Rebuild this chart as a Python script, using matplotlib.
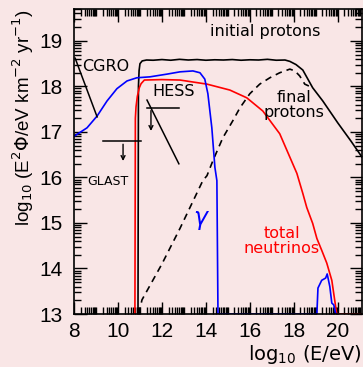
import numpy as np
import matplotlib
matplotlib.use('Agg')
import matplotlib.pyplot as plt
from matplotlib.ticker import FixedLocator

# initial protons (solid black)
init_E = [10.91, 10.93, 10.96, 11.0, 11.1, 11.3, 11.6, 12.0, 12.4, 12.8, 13.2, 13.6, 14.0,
          14.4, 14.8, 15.2, 15.6, 16.0, 16.4, 16.8, 17.2, 17.6, 17.82, 18.1, 18.41, 18.86,
          19.32, 20.0, 20.6, 21.1]
init_F = [13.0, 18.0, 18.35, 18.5, 18.56, 18.58, 18.575, 18.59, 18.575, 18.595, 18.58, 18.59, 18.575,
          18.585, 18.58, 18.59, 18.575, 18.585, 18.58, 18.595, 18.575, 18.58, 18.55, 18.48, 18.36, 17.97,
          17.68, 17.2, 16.8, 16.45]

# final protons (dashed black)
fin_E = [10.95, 11.09, 12.0, 12.82, 13.86, 14.05, 14.32, 14.77, 15.23, 15.55, 16.0, 16.45,
         16.91, 17.36, 17.82, 18.05, 18.27, 18.5, 18.86]
fin_F = [13.0, 13.31, 14.1, 14.88, 15.93, 16.04, 16.37, 16.87, 17.25, 17.53, 17.84, 18.05,
         18.19, 18.30, 18.38, 18.34, 18.23, 18.05, 17.97]

# total neutrinos (red)
nu_E = [10.77, 10.79, 10.82, 10.88, 10.97, 11.05, 11.2, 12.0, 12.82, 14.05, 15.09, 15.86,
        16.59, 17.36, 18.14, 18.41, 18.59, 18.86, 19.05, 19.27, 19.5, 19.73, 19.86, 19.95,
        20.0, 21.1]
nu_F = [13.0, 17.3, 17.55, 17.78, 17.97, 18.06, 18.14, 18.15, 18.14, 18.05, 17.92, 17.75,
        17.46, 16.96, 16.09, 15.65, 15.34, 14.99, 14.66, 14.40, 14.12, 13.74, 13.31, 13.02,
        13.0, 13.0]

# gamma (blue)
g_E = [8.0, 8.05, 8.59, 9.05, 9.5, 9.95, 10.41, 10.86, 11.45, 12.23, 12.82, 13.41, 13.73,
       13.95, 14.09, 14.27, 14.41, 14.5, 14.55, 19.05, 19.1, 19.27, 19.45, 19.52, 19.64,
       19.73, 19.82, 19.9, 19.95]
g_F = [16.9, 16.92, 17.09, 17.35, 17.68, 17.95, 18.12, 18.19, 18.21, 18.27, 18.32, 18.34, 18.30,
       18.16, 17.84, 17.09, 16.22, 15.93, 13.0, 13.0, 13.57, 13.74, 13.79, 13.88, 13.6,
       13.24, 13.2, 13.02, 13.0]

# limits
cgro_E = [8.05, 9.05]
cgro_F = [18.62, 17.33]
hess_E = [11.32, 12.77]
hess_F = [17.7, 16.3]
hess_lim_E = [11.32, 12.77]
hess_lim_F = 17.53
glast_lim_E = [9.32, 11.05]
glast_lim_F = 16.79

bg = '#f9e6e6'
fig = plt.figure(figsize=(3.63, 3.67), dpi=100, facecolor=bg)
ax = fig.add_axes([0.204, 0.1444, 0.793, 0.831], facecolor=bg)

lw = 1.2
ax.plot(init_E, init_F, color='black', lw=lw)
ax.plot(fin_E, fin_F, color='black', lw=lw, ls=(0, (4, 3)))
ax.plot(nu_E, nu_F, color='red', lw=lw)
ax.plot(g_E, g_F, color='blue', lw=lw)

ax.plot(cgro_E, cgro_F, color='black', lw=1.1)
ax.plot(hess_E, hess_F, color='black', lw=1.1)
ax.plot(hess_lim_E, [hess_lim_F, hess_lim_F], color='black', lw=1.1)
ax.plot(glast_lim_E, [glast_lim_F, glast_lim_F], color='black', lw=1.1)
ax.annotate('', xy=(11.5, 16.96), xytext=(11.5, hess_lim_F),
            arrowprops=dict(arrowstyle='->', color='black', lw=1.0, mutation_scale=7))
ax.annotate('', xy=(10.23, 16.3), xytext=(10.23, glast_lim_F),
            arrowprops=dict(arrowstyle='->', color='black', lw=1.0, mutation_scale=7))

tf = dict(fontsize=11.5, family='DejaVu Sans', fontweight='medium')
ax.text(16.7, 19.2, 'initial protons', ha='center', va='center', **tf)
ax.text(9.45, 18.43, 'CGRO', ha='center', va='center', **tf)
ax.text(12.55, 17.88, 'HESS', ha='center', va='center', **tf)
ax.text(9.55, 15.91, 'GLAST', ha='center', va='center', fontsize=9, family='DejaVu Sans')
ax.text(18.0, 17.6, 'final\nprotons', ha='center', va='center', linespacing=1.0, **tf)
ax.text(17.45, 14.6, 'total\nneutrinos', ha='center', va='center', linespacing=1.0,
        color='red', **tf)
ax.text(13.8, 15.06, r'$\gamma$', ha='center', va='center', color='blue', fontsize=17)

ax.set_xlim(8, 21.1)
ax.set_ylim(13, 19.7)

ax.set_xticks(range(8, 21, 2))
ax.set_yticks(range(13, 20))
xminor = [n + np.log10(k) for n in range(8, 22) for k in range(2, 10)] + list(range(9, 22, 2))
yminor = [n + np.log10(k) for n in range(13, 20) for k in range(2, 10)]
ax.xaxis.set_minor_locator(FixedLocator([v for v in xminor if v <= 21.1]))
ax.yaxis.set_minor_locator(FixedLocator([v for v in yminor if v <= 19.7]))
ax.tick_params(which='both', direction='in', top=True, right=True, width=1.0)
ax.tick_params(which='major', length=9)
ax.tick_params(which='minor', length=5)
ax.tick_params(axis='x', which='major', pad=6)
ax.tick_params(axis='y', which='major', pad=8)
for lab in ax.get_xticklabels() + ax.get_yticklabels():
    lab.set_fontsize(15)
    lab.set_family('Liberation Sans')
for s in ax.spines.values():
    s.set_linewidth(1.2)

ax.set_xlabel(r'log$_{10}$ (E/eV)', fontsize=14, family='DejaVu Sans', loc='right', labelpad=1)
ax.set_ylabel(r'log$_{10}$ (E$^2\Phi$/eV km$^{-2}$ yr$^{-1}$)', fontsize=13.5,
              family='Liberation Sans', loc='top', labelpad=3)

fig.savefig('out.png', dpi=100, facecolor=bg)
